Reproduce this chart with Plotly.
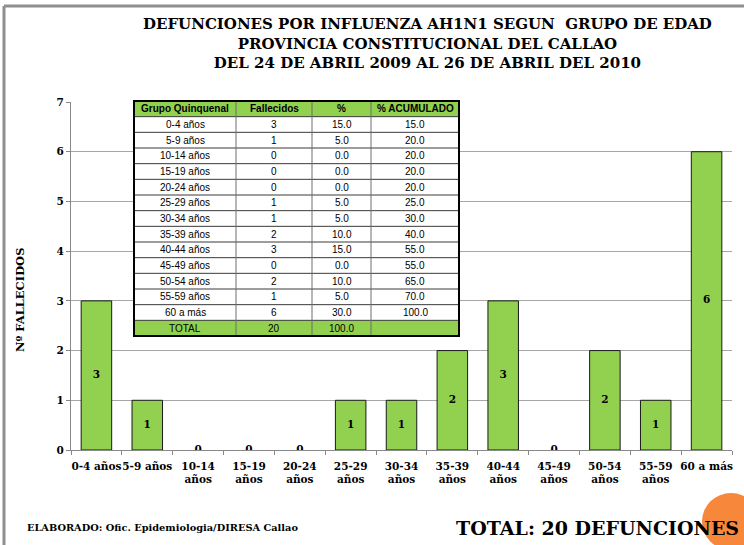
import plotly.graph_objects as go

categories = ["0-4 años", "5-9 años", "10-14<br>años", "15-19<br>años", "20-24<br>años",
              "25-29<br>años", "30-34<br>años", "35-39<br>años", "40-44<br>años",
              "45-49<br>años", "50-54<br>años", "55-59<br>años", "60 a más"]
deaths = [3, 1, 0, 0, 0, 1, 1, 2, 3, 0, 2, 1, 6]

table_groups = ["0-4 años", "5-9 años", "10-14 años", "15-19 años", "20-24 años",
                "25-29 años", "30-34 años", "35-39 años", "40-44 años", "45-49 años",
                "50-54 años", "55-59 años", "60 a más", "TOTAL"]
table_deaths = ["3", "1", "0", "0", "0", "1", "1", "2", "3", "0", "2", "1", "6", "20"]
table_pct = ["15.0", "5.0", "0.0", "0.0", "0.0", "5.0", "5.0", "10.0", "15.0", "0.0",
             "10.0", "5.0", "30.0", "100.0"]
table_cum = ["15.0", "20.0", "20.0", "20.0", "20.0", "25.0", "30.0", "40.0", "55.0",
             "55.0", "65.0", "70.0", "100.0", ""]
table_header = ["Grupo Quinquenal", "Fallecidos", "%", "% ACUMULADO"]

GREEN = "#92D050"
SERIF = "DejaVu Serif"
SANS = "Liberation Sans"

W, H = 744, 545
L, R, T, B = 71, 12, 102, 95
pw, ph = W - L - R, H - T - B

def px(x):
    return (x - L) / pw

def py(y):
    return (H - B - y) / ph

fig = go.Figure()
fig.add_trace(go.Bar(
    x=categories, y=deaths,
    marker=dict(color=GREEN, line=dict(color="#1a1a1a", width=[1 if v > 0 else 0 for v in deaths])),
    width=0.6, hoverinfo="skip", showlegend=False))
fig.add_trace(go.Scatter(
    x=categories, y=[v / 2 for v in deaths], text=[str(v) for v in deaths],
    mode="text", textposition="middle center",
    textfont=dict(family=SERIF, size=10.5, color="#000", weight="bold"),
    hoverinfo="skip", showlegend=False))

# ---- table layout (pixel geometry of the embedded data table) ----
col_edges = [134, 236, 312, 371, 459]
tab_top, tab_bot = 101, 336
rows = [table_header] + [list(r) for r in zip(table_groups, table_deaths, table_pct, table_cum)]
nrows = len(rows)
rh = (tab_bot - tab_top) / nrows

shapes = []
annotations = []
shapes.append(dict(type="rect", xref="paper", yref="paper", x0=px(col_edges[0]), x1=px(col_edges[-1]),
                   y0=py(tab_bot), y1=py(tab_top), fillcolor="white", line=dict(width=0)))
for ri in (0, nrows - 1):
    shapes.append(dict(type="rect", xref="paper", yref="paper", x0=px(col_edges[0]), x1=px(col_edges[-1]),
                       y0=py(tab_top + (ri + 1) * rh), y1=py(tab_top + ri * rh),
                       fillcolor=GREEN, line=dict(width=0)))
for ri in range(1, nrows):
    yy = py(tab_top + ri * rh)
    shapes.append(dict(type="line", xref="paper", yref="paper", x0=px(col_edges[0]), x1=px(col_edges[-1]),
                       y0=yy, y1=yy, line=dict(color="#3a3a3a", width=1)))
for xe in col_edges[1:-1]:
    shapes.append(dict(type="line", xref="paper", yref="paper", x0=px(xe), x1=px(xe),
                       y0=py(tab_bot), y1=py(tab_top), line=dict(color="#6e6e6e", width=1)))
shapes.append(dict(type="rect", xref="paper", yref="paper", x0=px(col_edges[0]), x1=px(col_edges[-1]),
                   y0=py(tab_bot), y1=py(tab_top), line=dict(color="#000", width=2)))
for ri, row in enumerate(rows):
    yc = py(tab_top + (ri + 0.5) * rh)
    for ci, val in enumerate(row):
        if val == "":
            continue
        xc = px((col_edges[ci] + col_edges[ci + 1]) / 2)
        annotations.append(dict(
            text=("<b>%s</b>" % val) if ri == 0 else val, x=xc, y=yc, xref="paper", yref="paper",
            xanchor="center", yanchor="middle", showarrow=False,
            font=dict(family=SANS, size=10, color="#000")))

shapes += [
    dict(type="line", xref="paper", yref="paper", x0=px(4), x1=px(4), y0=py(6), y1=py(545),
         line=dict(color="#8f8f8f", width=3)),
    dict(type="line", xref="paper", yref="paper", x0=px(4), x1=px(744), y0=py(6), y1=py(6),
         line=dict(color="#8f8f8f", width=3)),
    dict(type="circle", xref="paper", yref="paper", x0=px(702), x1=px(760), y0=py(550), y1=py(493),
         fillcolor="#F7883B", line=dict(width=0), layer="below"),
]

annotations += [
    dict(text="DEFUNCIONES POR INFLUENZA AH1N1 SEGUN  GRUPO DE EDAD<br>PROVINCIA CONSTITUCIONAL DEL CALLAO<br>DEL 24 DE ABRIL 2009 AL 26 DE ABRIL DEL 2010",
         x=px(428), y=py(44), xref="paper", yref="paper", xanchor="center", yanchor="middle",
         showarrow=False, font=dict(family=SERIF, size=15, color="#000", weight="bold"), align="center"),
    dict(text="Nº FALLECIDOS", textangle=-90, x=px(20), y=py(300), xref="paper", yref="paper",
         xanchor="center", yanchor="middle", showarrow=False,
         font=dict(family=SERIF, size=11.5, color="#000", weight="bold")),
    dict(text="ELABORADO: Ofic. Epidemiologia/DIRESA Callao", x=px(25), y=py(527),
         xref="paper", yref="paper", xanchor="left", yanchor="middle", showarrow=False,
         font=dict(family=SERIF, size=9.8, color="#000", weight="bold")),
    dict(text="TOTAL: 20 DEFUNCIONES", x=px(741), y=py(528), xref="paper", yref="paper",
         xanchor="right", yanchor="middle", showarrow=False,
         font=dict(family=SERIF, size=19, color="#000", weight="bold")),
]

fig.update_layout(
    width=W, height=H, margin=dict(l=L, r=R, t=T, b=B, autoexpand=False),
    paper_bgcolor="white", plot_bgcolor="white",
    shapes=shapes, annotations=annotations, bargap=0.4,
    xaxis=dict(range=[-0.5, len(categories) - 0.5], showline=True, linecolor="#888", linewidth=1,
               ticks="outside", ticklen=4, tickcolor="#888", tickson="boundaries", showgrid=False,
               tickangle=0, automargin=False, ticklabelstandoff=6,
               tickfont=dict(family=SERIF, size=10.5, color="#000", weight="bold")),
    yaxis=dict(range=[0, 7], dtick=1, showline=True, linecolor="#888", linewidth=1,
               ticks="outside", ticklen=4, tickcolor="#888", showgrid=True, automargin=False,
               gridcolor="#A6A6A6", gridwidth=1, zeroline=False,
               tickfont=dict(family=SERIF, size=10.5, color="#000", weight="bold")),
)

fig.write_html("out.html", config={"displayModeBar": False},
               post_script="document.body.style.margin='0';document.body.style.overflow='hidden';")
